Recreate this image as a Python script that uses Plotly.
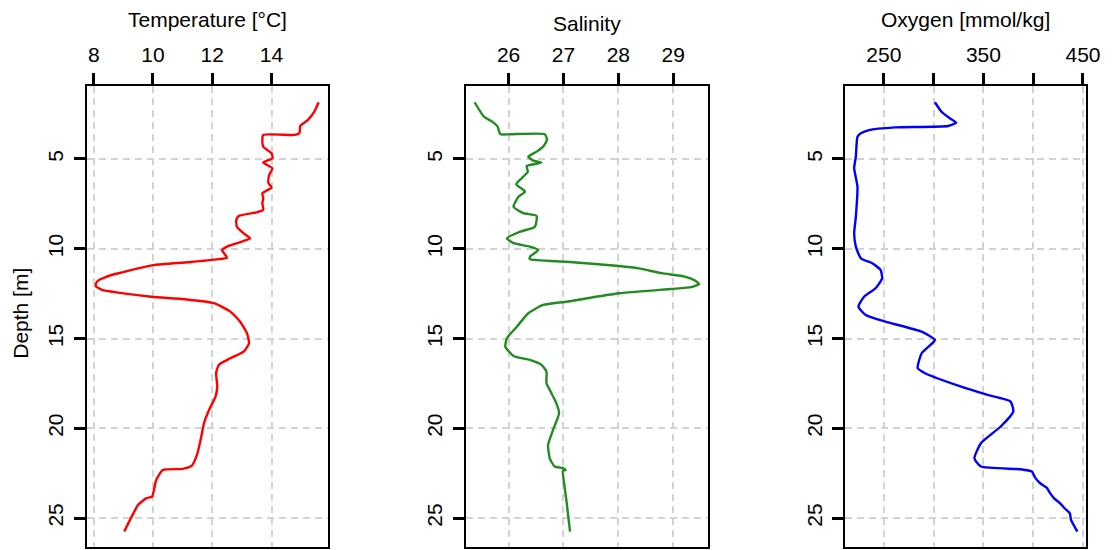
import plotly.graph_objects as go

# ---------------- data ----------------
temp_depth = [1.84, 2.37, 2.83, 3.16, 3.57, 3.66, 3.66, 3.94, 4.32, 4.68, 4.96, 5.2, 5.52, 5.89, 6.32, 6.6,
              6.78, 6.91, 7.19, 7.47, 7.84, 7.97, 8.17, 8.4, 8.77, 9.14, 9.42, 9.6, 9.88, 10.07, 10.5, 10.58,
              10.75, 10.9, 11.09, 11.3, 11.46, 11.59, 11.7, 11.83, 12.07, 12.29, 12.44, 12.67, 12.81, 13.03, 13.5,
              14.06, 14.7, 15.26, 15.73, 16.1, 16.47, 16.93, 17.68, 18.23, 18.98, 19.72, 20.46, 21.39, 22.08,
              22.26, 22.32, 22.87, 23.8, 23.89, 24.26, 24.92, 25.75]
temp_vals = [15.59, 15.44, 15.22, 14.97, 14.94, 14.78, 13.72, 13.69, 13.72, 14.0, 14.03, 13.72, 14.03, 13.92,
             13.89, 14.0, 13.81, 13.69, 13.72, 13.69, 13.72, 13.5, 12.89, 12.81, 12.83, 13.06, 13.28, 13.0, 12.5,
             12.33, 12.5, 12.22, 11.2, 10.06, 9.5, 9.0, 8.6, 8.39, 8.22, 8.11, 8.06, 8.28, 8.83, 9.94, 11.06,
             12.06, 12.61, 12.94, 13.17, 13.24, 13.06, 12.61, 12.22, 12.13, 12.17, 12.11, 11.89, 11.72, 11.63,
             11.5, 11.31, 11.0, 10.33, 10.11, 9.97, 9.78, 9.5, 9.28, 9.03]

sal_depth = [1.84, 2.64, 2.92, 3.2, 3.62, 3.62, 3.62, 3.94, 4.31, 4.59, 4.87, 5.09, 5.2, 5.39, 5.71, 6.07,
             6.41, 6.82, 7.1, 7.66, 8.02, 8.17, 8.77, 9.05, 9.42, 9.69, 9.88, 10.07, 10.44, 10.58, 10.72, 10.96,
             11.09, 11.36, 11.55, 11.75, 11.96, 12.14, 12.24, 12.48, 12.95, 13.13, 13.59, 14.34, 14.98, 15.45,
             15.97, 16.19, 16.47, 16.84, 17.49, 17.86, 18.6, 19.16, 20.09, 20.92, 21.67, 22.13, 22.22, 22.32,
             22.36, 23.24, 24.17, 25.75]
sal_vals = [25.38, 25.55, 25.70, 25.80, 25.85, 26.03, 26.66, 26.70, 26.63, 26.51, 26.36, 26.45, 26.60, 26.33,
            26.35, 26.24, 26.14, 26.30, 26.18, 26.09, 26.27, 26.51, 26.48, 26.21, 25.97, 26.09, 26.39, 26.54,
            26.39, 26.39, 27.05, 28.01, 28.37, 28.79, 29.21, 29.39, 29.47, 29.33, 28.97, 28.01, 27.05, 26.63,
            26.36, 26.15, 25.97, 25.94, 26.09, 26.39, 26.60, 26.69, 26.69, 26.75, 26.87, 26.92, 26.81, 26.72,
            26.75, 26.84, 26.99, 27.04, 26.99, 27.02, 27.06, 27.12]

oxy_depth = [1.84, 2.37, 2.73, 2.98, 3.16, 3.24, 3.39, 3.57, 3.76, 4.87, 5.52, 6.54, 8.21, 9.14, 9.88, 10.53,
             10.81, 11.18, 11.64, 12.2, 12.67, 13.22, 13.69, 14.06, 14.62, 15.08, 15.82, 16.65, 16.93, 17.68,
             18.14, 18.51, 19.07, 19.9, 20.83, 21.67, 22.13, 22.28, 22.41, 22.75, 23.06, 23.3, 23.61, 23.9,
             24.17, 24.45, 24.73, 25.1, 25.75]
oxy_vals = [301.3, 307.9, 316.2, 322.7, 314.5, 261.6, 235.1, 226.9, 223.5, 221.9, 220.2, 223.5, 221.9, 220.2,
            221.9, 226.9, 238.4, 246.7, 248.3, 241.7, 230.2, 224.5, 231.8, 251.6, 288.0, 301.3, 288.0, 284.0,
            291.4, 327.7, 354.2, 377.3, 380.0, 367.4, 347.5, 341.0, 347.5, 387.2, 398.8, 402.0, 407.0, 413.5,
            417.0, 421.0, 426.9, 431.5, 436.8, 438.0, 444.4]

depth_ticks = [5, 10, 15, 20, 25]
temp_ticks = [8, 10, 12, 14]
sal_ticks = [26, 27, 28, 29]
oxy_ticks = [250, 300, 350, 400, 450]
oxy_ticktext = ["250", "", "350", "", "450"]

titles = ["Temperature [°C]", "Salinity", "Oxygen [mmol/kg]"]

# ---------------- figure ----------------
W, H = 1120, 550
FONT = "Liberation Sans, Arial, sans-serif"
FS = 21
fig = go.Figure()

panels = [
    dict(x=temp_vals, y=temp_depth, color="#ff0000", rng=[7.77, 15.9], ticks=temp_ticks,
         text=[str(t) for t in temp_ticks], dom=[88, 332], title_y=19),
    dict(x=sal_vals, y=sal_depth, color="#228B22", rng=[25.22, 29.63], ticks=sal_ticks,
         text=[str(t) for t in sal_ticks], dom=[471.7, 716.7], title_y=23),
    dict(x=oxy_vals, y=oxy_depth, color="#0000ff", rng=[211, 453.3], ticks=oxy_ticks,
         text=oxy_ticktext, dom=[855.7, 1100], title_y=19),
]

ydom = [1 - 547 / H, 1 - 86 / H]
layout = dict(width=W, height=H, margin=dict(l=0, r=0, t=0, b=0),
              paper_bgcolor="white", plot_bgcolor="white", showlegend=False,
              font=dict(family=FONT, size=FS, color="black"))

for i, p in enumerate(panels, start=1):
    xa = "x" if i == 1 else f"x{i}"
    ya = "y" if i == 1 else f"y{i}"
    fig.add_trace(go.Scatter(x=p["x"], y=p["y"], mode="lines",
                             line=dict(color=p["color"], width=2.4, shape="spline", smoothing=0.5),
                             xaxis=xa, yaxis=ya, hoverinfo="skip"))
    common = dict(showline=True, mirror=True, linecolor="black", linewidth=2.2,
                  ticks="outside", ticklen=11, tickwidth=2.5, tickcolor="black",
                  showgrid=True, gridcolor="#d3d3d3", gridwidth=2, griddash="7px,5px",
                  zeroline=False, tickfont=dict(family=FONT, size=FS, color="black"))
    layout["xaxis" if i == 1 else f"xaxis{i}"] = dict(
        common, domain=[p["dom"][0] / W, p["dom"][1] / W], range=p["rng"], side="top",
        anchor=ya, tickmode="array", tickvals=p["ticks"], ticktext=p["text"],
        ticklabelstandoff=3)
    layout["yaxis" if i == 1 else f"yaxis{i}"] = dict(
        common, domain=ydom, range=[26.61, 0.935], anchor=xa, tickmode="array",
        tickvals=depth_ticks, ticktext=[str(d) for d in depth_ticks], tickangle=-90,
        ticklabelstandoff=2)

fig.update_layout(**layout)

anns = []
for p, t in zip(panels, titles):
    anns.append(dict(text=t, x=(p["dom"][0] + p["dom"][1]) / 2 / W, y=1 - p["title_y"] / H,
                     xref="paper", yref="paper", xanchor="center", yanchor="middle",
                     showarrow=False, font=dict(family=FONT, size=FS, color="black")))
anns.append(dict(text="Depth [m]", x=20 / W, y=1 - 313 / H, xref="paper", yref="paper",
                 xanchor="center", yanchor="middle", textangle=-90, showarrow=False,
                 font=dict(family=FONT, size=FS, color="black")))
fig.update_layout(annotations=anns)

fig.write_html("out.html")
